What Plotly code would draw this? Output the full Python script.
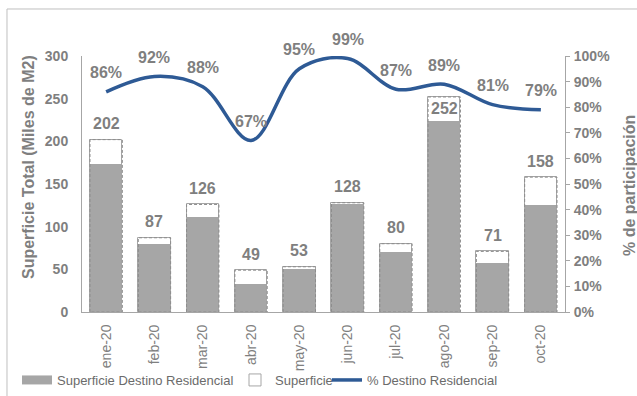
import plotly.graph_objects as go

# data
meses = ["ene-20", "feb-20", "mar-20", "abr-20", "may-20",
         "jun-20", "jul-20", "ago-20", "sep-20", "oct-20"]
superficie = [202, 87, 126, 49, 53, 128, 80, 252, 71, 158]
residencial = [173, 80, 111, 33, 50, 127, 70, 224, 58, 125]
pct_residencial = [86, 92, 88, 67, 95, 99, 87, 89, 81, 79]

FONT = "Liberation Sans, Arial, sans-serif"
GRIS = "#7f7f7f"
GRIS_BARRA = "#a6a6a6"
AZUL = "#2e5a95"
ANCHO = 0.67
W, H = 637, 396

idx = list(range(len(meses)))

fig = go.Figure()

# total surface: white bar (legend entry) + dashed outline
fig.add_trace(go.Bar(
    x=idx, y=superficie, name="Superficie", width=ANCHO,
    marker=dict(color="white", line=dict(color=GRIS_BARRA, width=1)),
    legend="legend2",
))
fig.add_trace(go.Bar(
    x=idx, y=residencial, name="Superficie Destino Residencial", width=ANCHO,
    marker=dict(color=GRIS_BARRA, line=dict(width=0)),
    showlegend=False,
))
# wide swatch for the legend, like the original
fig.add_trace(go.Scatter(
    x=[None], y=[None], mode="lines", name="Superficie Destino Residencial",
    line=dict(color=GRIS_BARRA, width=9), legend="legend",
))

ox, oy = [], []
for i, v in zip(idx, superficie):
    h = ANCHO / 2
    ox += [i - h, i - h, i + h, i + h, i - h, None]
    oy += [0, v, v, 0, 0, None]
fig.add_trace(go.Scatter(
    x=ox, y=oy, mode="lines", showlegend=False, hoverinfo="skip",
    line=dict(color="#8c8c8c", width=1, dash="3px,2px"),
))

fig.add_trace(go.Scatter(
    x=idx, y=pct_residencial, name="% Destino Residencial", yaxis="y2",
    mode="lines", line=dict(color=AZUL, width=3.5, shape="spline", smoothing=1),
    legend="legend3",
))

# data labels
label_shift = [16, 16, 16, 16, 16, 16, 16, -12, 16, 16]
for i, v, s in zip(idx, superficie, label_shift):
    fig.add_annotation(x=i, y=v, yref="y", text=f"<b>{v}</b>", showarrow=False,
                       yshift=s, font=dict(family=FONT, size=16, color=GRIS))
for i, p in zip(idx, pct_residencial):
    fig.add_annotation(x=i, y=p, yref="y2", text=f"<b>{p}%</b>", showarrow=False,
                       yshift=19, font=dict(family=FONT, size=16, color=GRIS))

# axis titles
fig.add_annotation(xref="paper", yref="paper", x=-0.112, y=0.566,
                   xanchor="center", yanchor="middle",
                   text="<b>Superficie Total (Miles de M2)</b>", textangle=-90,
                   showarrow=False, font=dict(family=FONT, size=16, color=GRIS))
fig.add_annotation(xref="paper", yref="paper", x=1.1325, y=0.496,
                   xanchor="center", yanchor="middle",
                   text="<b>% de participación</b>", textangle=-90,
                   showarrow=False, font=dict(family=FONT, size=16, color=GRIS))

# outer chart border
fig.add_shape(type="rect", xref="paper", yref="paper",
              x0=-0.1553, y0=-0.5, x1=1.3, y1=1.1836,
              line=dict(color="#bfbfbf", width=1), layer="below")


def leyenda(px):
    return dict(orientation="h", xref="container", yref="container",
                x=px / W, xanchor="left", y=(H - 380) / H, yanchor="middle",
                font=dict(family=FONT, size=13, color="#6b6b6b"),
                bgcolor="rgba(0,0,0,0)", borderwidth=0)


fig.update_layout(
    width=W, height=H,
    margin=dict(l=82, r=72, t=56, b=84, autoexpand=False),
    paper_bgcolor="white", plot_bgcolor="white",
    barmode="overlay", bargap=0,
    font=dict(family=FONT, color=GRIS),
    showlegend=True,
    legend=leyenda(17),
    legend2=leyenda(235),
    legend3=leyenda(327),
    xaxis=dict(
        range=[-0.5, 9.5], tickmode="array", tickvals=idx, ticktext=meses,
        tickangle=-90, showgrid=False, zeroline=False,
        showline=True, linecolor=GRIS_BARRA, linewidth=1,
        ticks="", ticklabelstandoff=6,
        tickfont=dict(family=FONT, size=14, color=GRIS),
    ),
    yaxis=dict(
        range=[0, 300], dtick=50, showgrid=False, zeroline=False,
        showline=True, linecolor=GRIS_BARRA, linewidth=1,
        ticks="", ticklabelstandoff=10,
        tickfont=dict(family=FONT, size=14, color=GRIS, weight="bold"),
    ),
    yaxis2=dict(
        range=[0, 100], dtick=10, overlaying="y", side="right",
        ticksuffix="%", showgrid=False, zeroline=False,
        showline=True, linecolor=GRIS_BARRA, linewidth=1,
        ticks="outside", ticklen=4, tickcolor=GRIS_BARRA, ticklabelstandoff=1,
        tickfont=dict(family=FONT, size=14, color=GRIS, weight="bold"),
    ),
)

fig.write_html("out.html", config={"displayModeBar": False},
               post_script="document.body.style.margin='0';")
